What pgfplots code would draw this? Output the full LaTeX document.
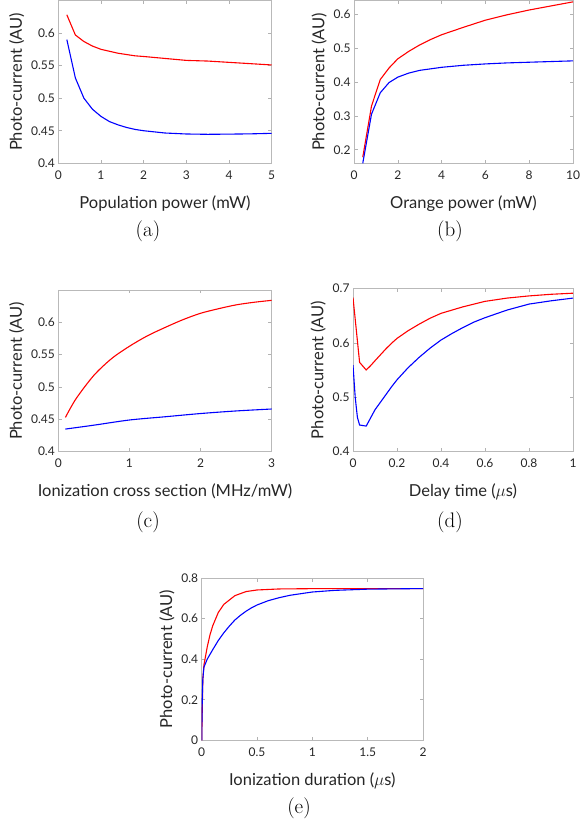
\documentclass[border=0pt]{standalone}
\usepackage{pgfplots}
\pgfplotsset{compat=1.18}
\usepackage{fontspec}
\newfontfamily\lato{Lato}

\pgfplotsset{
  panel/.style={
    scale only axis,
    anchor=south west,
    axis line style={gray!55, line width=0.6pt},
    tick style={gray!60, line width=0.5pt},
    major tick length=3.5pt,
    tick align=inside,
    ticklabel style={font=\lato\fontsize{12}{14}\selectfont, text=black!85},
    xticklabel style={yshift=-4pt},
    label style={font=\lato\fontsize{16.5}{19}\selectfont, text=black!85},
    xlabel style={yshift=-9pt},
    /pgf/number format/assume math mode=true,
    /pgf/number format/fixed,
    /pgf/number format/precision=2,
    ylabel={Photo-current (AU)},
    every axis plot/.append style={line width=1.1pt, mark=none},
  },
}

\begin{document}
\begin{tikzpicture}
\path[use as bounding box] (0,0) rectangle (580pt,827pt);

% (a)
\begin{axis}[panel, at={(58.3pt,663.7pt)}, width=213.4pt, height=162.8pt,
  xmin=0, xmax=5, ymin=0.4, ymax=0.65,
  xtick={0,1,...,5}, ytick={0.4,0.45,0.5,0.55,0.6},
  xlabel={Population power (mW)}]
\addplot[red] coordinates {(0.2,0.628) (0.4,0.597) (0.6,0.587) (0.8,0.580)
  (1.0,0.575) (1.2,0.572) (1.4,0.569) (1.6,0.567) (1.8,0.565) (2.0,0.564)
  (2.5,0.561) (3.0,0.558) (3.5,0.557) (4.0,0.555) (4.5,0.553) (5.0,0.551)};
\addplot[blue] coordinates {(0.2,0.590) (0.4,0.531) (0.6,0.500) (0.8,0.483)
  (1.0,0.472) (1.2,0.464) (1.4,0.459) (1.6,0.455) (1.8,0.452) (2.0,0.450)
  (2.5,0.4465) (3.0,0.445) (3.5,0.4445) (4.0,0.4448) (4.5,0.4452) (5.0,0.446)};
\end{axis}

% (b)
\begin{axis}[panel, at={(354pt,663.7pt)}, width=219pt, height=162.8pt,
  xmin=0, xmax=10, ymin=0.16, ymax=0.64,
  xtick={0,2,...,10}, ytick={0.2,0.3,0.4,0.5,0.6},
  xlabel={Orange power (mW)}]
\addplot[red] coordinates {(0.4,0.178) (0.8,0.329) (1.2,0.407) (1.6,0.441)
  (2.0,0.468) (2.5,0.490) (3.0,0.509) (3.5,0.525) (4.0,0.539) (5.0,0.561)
  (6.0,0.582) (7.0,0.598) (8.0,0.612) (9.0,0.624) (10.0,0.636)};
\addplot[blue] coordinates {(0.4,0.160) (0.8,0.305) (1.2,0.368) (1.6,0.398)
  (2.0,0.414) (2.5,0.426) (3.0,0.434) (4.0,0.443) (5.0,0.449) (6.0,0.453)
  (7.0,0.456) (8.0,0.458) (9.0,0.460) (10.0,0.462)};
\end{axis}

% (c)
\begin{axis}[panel, at={(58.3pt,375.3pt)}, width=213.4pt, height=161.7pt,
  xmin=0, xmax=3, ymin=0.4, ymax=0.65,
  xtick={0,1,2,3}, ytick={0.4,0.45,0.5,0.55,0.6},
  xlabel={Ionization cross section (MHz/mW)}]
\addplot[red, smooth] coordinates {(0.1,0.453) (0.25,0.482) (0.5,0.518) (0.75,0.544)
  (1.0,0.563) (1.25,0.579) (1.5,0.592) (1.75,0.604) (2.0,0.614) (2.25,0.621)
  (2.5,0.627) (2.75,0.631) (3.0,0.634)};
\addplot[blue, smooth] coordinates {(0.1,0.435) (0.5,0.441) (1.0,0.449) (1.5,0.454)
  (2.0,0.459) (2.5,0.463) (3.0,0.466)};
\end{axis}

% (d)
\begin{axis}[panel, at={(353pt,375.3pt)}, width=220pt, height=163.4pt,
  xmin=0, xmax=1, ymin=0.4, ymax=0.7,
  xtick={0,0.2,...,1}, ytick={0.4,0.5,0.6,0.7},
  xlabel={Delay time ($\mu$s)}]
\addplot[red] coordinates {(0,0.683) (0.03,0.564) (0.06,0.550) (0.08,0.558)
  (0.1,0.567) (0.125,0.578) (0.15,0.589) (0.175,0.599) (0.2,0.608)
  (0.25,0.622) (0.3,0.634) (0.35,0.645) (0.4,0.654) (0.45,0.660) (0.5,0.666)
  (0.55,0.671) (0.6,0.676) (0.7,0.682) (0.8,0.686) (0.9,0.689) (1.0,0.691)};
\addplot[blue] coordinates {(0,0.559) (0.01,0.500) (0.02,0.463) (0.03,0.449)
  (0.06,0.447) (0.08,0.462) (0.1,0.477) (0.125,0.491) (0.15,0.505)
  (0.175,0.519) (0.2,0.532) (0.25,0.554) (0.3,0.573) (0.35,0.590) (0.4,0.605)
  (0.45,0.617) (0.5,0.628) (0.55,0.638) (0.6,0.646) (0.7,0.660) (0.8,0.671)
  (0.9,0.677) (1.0,0.682)};
\end{axis}

% (e)
\begin{axis}[panel, at={(201.7pt,86.7pt)}, width=221.3pt, height=162.3pt,
  xmin=0, xmax=2, ymin=0, ymax=0.8,
  xtick={0,0.5,...,2}, ytick={0,0.2,...,0.8},
  xlabel={Ionization duration ($\mu$s)}]
\addplot[red] coordinates {(0,0) (0.01,0.30) (0.02,0.37) (0.05,0.46)
  (0.075,0.52) (0.1,0.565) (0.15,0.630) (0.2,0.670) (0.3,0.713) (0.4,0.733)
  (0.5,0.741) (0.7,0.746) (1.0,0.7475) (1.5,0.748) (2.0,0.748)};
\addplot[blue] coordinates {(0,0) (0.005,0.20) (0.01,0.30) (0.02,0.36)
  (0.05,0.40) (0.1,0.447) (0.15,0.492) (0.2,0.530) (0.25,0.563) (0.3,0.593)
  (0.35,0.616) (0.4,0.636) (0.45,0.653) (0.5,0.667) (0.6,0.688) (0.7,0.703)
  (0.8,0.715) (1.0,0.731) (1.2,0.739) (1.5,0.745) (2.0,0.748)};
\end{axis}

\node[font=\fontsize{21}{25}\selectfont] at (148pt,595.3pt) {(a)};
\node[font=\fontsize{21}{25}\selectfont] at (450pt,595.3pt) {(b)};
\node[font=\fontsize{21}{25}\selectfont] at (148pt,304.3pt) {(c)};
\node[font=\fontsize{21}{25}\selectfont] at (450pt,304.3pt) {(d)};
\node[font=\fontsize{21}{25}\selectfont] at (299pt,18.3pt) {(e)};
\end{tikzpicture}
\end{document}
